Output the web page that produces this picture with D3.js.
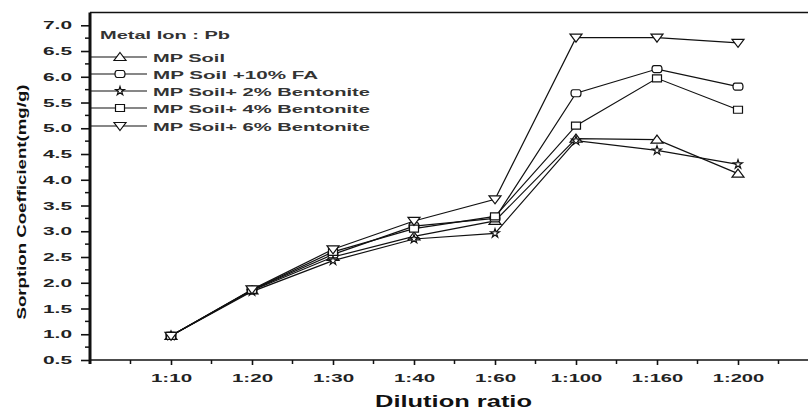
<!DOCTYPE html>
<html><head><meta charset="utf-8">
<script src="https://cdn.jsdelivr.net/npm/d3@7"></script>
<style>body{margin:0;background:#fff}svg{display:block}</style>
</head><body>
<svg id="c" width="808" height="410"></svg>
<script>
const categories = ["1:10","1:20","1:30","1:40","1:60","1:100","1:160","1:200"];
const mpSoil      = [0.97, 1.85, 2.50, 2.90, 3.20, 4.80, 4.78, 4.12];
const mpSoilFA    = [0.97, 1.86, 2.55, 3.10, 3.25, 5.68, 6.15, 5.81];
const mpSoil2B    = [0.97, 1.83, 2.43, 2.85, 2.96, 4.76, 4.57, 4.30];
const mpSoil4B    = [0.97, 1.86, 2.60, 3.05, 3.29, 5.05, 5.97, 5.36];
const mpSoil6B    = [0.97, 1.87, 2.65, 3.20, 3.62, 6.76, 6.76, 6.66];
const seriesNames = ["MP Soil","MP Soil +10% FA","MP Soil+ 2% Bentonite","MP Soil+ 4% Bentonite","MP Soil+ 6% Bentonite"];
const yTicks = [0.5,1.0,1.5,2.0,2.5,3.0,3.5,4.0,4.5,5.0,5.5,6.0,6.5,7.0];

const series = [
  {name: seriesNames[0], values: mpSoil,   sym: "tri"},
  {name: seriesNames[1], values: mpSoilFA, sym: "circ"},
  {name: seriesNames[2], values: mpSoil2B, sym: "star"},
  {name: seriesNames[3], values: mpSoil4B, sym: "sq"},
  {name: seriesNames[4], values: mpSoil6B, sym: "tridown"}
];

const svg = d3.select("#c");
const x = d3.scaleLinear().domain([0, 9]).range([90, 819]);
const y = d3.scaleLinear().domain([0.5, 7.25]).range([360, 12.4]);

const font = "Arial, 'Liberation Sans', sans-serif";

// top border
svg.append("line").attr("x1", 90).attr("x2", 808).attr("y1", y(7.25)).attr("y2", y(7.25))
  .attr("stroke", "#111").attr("stroke-width", 1.5);

// Y axis
const yAxis = svg.append("g").attr("transform", "translate(90,0)")
  .call(d3.axisLeft(y).tickValues(yTicks).tickFormat(d3.format(".1f")).tickSize(9).tickPadding(18));
yAxis.select(".domain").attr("stroke", "#111").attr("stroke-width", 3).attr("d", `M0,${y(0.5)+4}V${y(7.25)}`);
yAxis.selectAll(".tick line").attr("stroke", "#111").attr("stroke-width", 1.6);
yAxis.selectAll(".tick text").attr("font-family", font).attr("font-weight", "bold")
  .attr("font-size", 11).attr("fill", "#222").attr("text-anchor", "middle").attr("x", -32.5)
  .attr("textLength", 29).attr("lengthAdjust", "spacingAndGlyphs");
// minor y ticks
svg.append("g").selectAll("line").data(yTicks.map(v => v + 0.25).filter(v => v < 7.25)).join("line")
  .attr("x1", 85).attr("x2", 90).attr("y1", d => y(d)).attr("y2", d => y(d))
  .attr("stroke", "#111").attr("stroke-width", 1.5);

// X axis
const xAxis = svg.append("g").attr("transform", `translate(0,${y(0.5)})`)
  .call(d3.axisBottom(x).tickValues(d3.range(1, 9)).tickFormat(i => categories[i - 1]).tickSize(5).tickPadding(9));
xAxis.select(".domain").attr("stroke", "#111").attr("stroke-width", 1.5).attr("d", `M90,0H808`);
xAxis.selectAll(".tick line").attr("stroke", "#111").attr("stroke-width", 1.6);
xAxis.selectAll(".tick text").attr("font-family", font).attr("font-weight", "bold")
  .attr("font-size", 11).attr("fill", "#222")
  .attr("textLength", function() { return this.textContent.length * 10.3; })
  .attr("lengthAdjust", "spacingAndGlyphs");
svg.append("g").selectAll("line").data(d3.range(0.5, 9.5, 1)).join("line")
  .attr("x1", d => x(d)).attr("x2", d => x(d)).attr("y1", y(0.5)).attr("y2", y(0.5) + 4)
  .attr("stroke", "#111").attr("stroke-width", 1.5);

// axis titles
svg.append("text").attr("x", 453.5).attr("y", 407).attr("text-anchor", "middle")
  .attr("font-family", font).attr("font-weight", "bold").attr("font-size", 16)
  .attr("textLength", 157).attr("lengthAdjust", "spacingAndGlyphs")
  .attr("fill", "#111").text("Dilution ratio");
svg.append("text").attr("transform", "translate(26,202) rotate(-90)").attr("text-anchor", "middle")
  .attr("font-family", font).attr("font-weight", "bold").attr("font-size", 13)
  .attr("textLength", 235).attr("lengthAdjust", "spacingAndGlyphs")
  .attr("fill", "#111").text("Sorption Coefficient(mg/g)");

// marker path generator
function markerPath(sym) {
  switch (sym) {
    case "tri": return "M0,-4.5L6,3.5L-6,3.5Z";
    case "tridown": return "M0,4.5L6,-3.5L-6,-3.5Z";
    case "sq": return "M-4.5,-3.5H4.5V3.5H-4.5Z";
    case "circ": return "M-3,-3.5H3A2,3.5 0 0 1 3,3.5H-3A2,3.5 0 0 1 -3,-3.5Z";
    case "star": return d3.symbol(d3.symbolStar, 24)();
  }
}

const line = d3.line().x((d, i) => x(i + 1)).y(d => y(d));
const plot = svg.append("g");
series.forEach(s => {
  plot.append("path").attr("d", line(s.values)).attr("fill", "none")
    .attr("stroke", "#111").attr("stroke-width", 1.2);
});
series.forEach(s => {
  plot.append("g").selectAll("path").data(s.values).join("path")
    .attr("transform", (d, i) => `translate(${x(i + 1)},${y(d)})`)
    .attr("d", markerPath(s.sym)).attr("fill", "#fff").attr("stroke", "#111").attr("stroke-width", 1.2);
});

// legend
svg.append("text").attr("x", 100).attr("y", 39).attr("font-family", font).attr("font-size", 11.5)
  .attr("font-weight", "bold").attr("textLength", 130).attr("lengthAdjust", "spacingAndGlyphs")
  .attr("fill", "#333").text("Metal Ion : Pb");
const legRows = [57, 74, 91, 108, 126];
const legWidths = [72, 165, 217, 217, 217];
series.forEach((s, i) => {
  const g = svg.append("g").attr("transform", `translate(0,${legRows[i]})`);
  g.append("line").attr("x1", 91).attr("x2", 147).attr("y1", 0).attr("y2", 0)
    .attr("stroke", "#111").attr("stroke-width", 1.2);
  g.append("path").attr("transform", "translate(120,0)").attr("d", markerPath(s.sym))
    .attr("fill", "#fff").attr("stroke", "#111").attr("stroke-width", 1.2);
  g.append("text").attr("x", 153).attr("y", 4.5).attr("font-family", font).attr("font-size", 11.5)
    .attr("font-weight", "bold").attr("textLength", legWidths[i]).attr("lengthAdjust", "spacingAndGlyphs")
    .attr("fill", "#333").text(s.name);
});
</script>
</body></html>
